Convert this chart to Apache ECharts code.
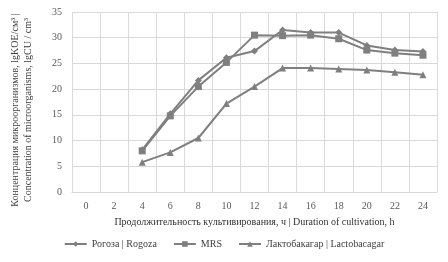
<!DOCTYPE html>
<html><head><meta charset="utf-8">
<script src="https://cdn.jsdelivr.net/npm/echarts@6/dist/echarts.min.js"></script>
<style>html,body{margin:0;padding:0;background:#fff}#c{width:448px;height:262px}</style>
</head><body><div id="c"></div>
<script>
const categories = ['0','2','4','6','8','10','12','14','16','18','20','22','24'];
const rogoza = [null, null, 8.2, 15.2, 21.7, 26.1, 27.4, 31.5, 31.0, 31.0, 28.5, 27.6, 27.3];
const mrs = [null, null, 8.0, 14.8, 20.5, 25.2, 30.5, 30.4, 30.5, 29.8, 27.6, 27.0, 26.6];
const lacto = [null, null, 5.8, 7.7, 10.5, 17.2, 20.5, 24.1, 24.1, 23.9, 23.7, 23.3, 22.8];
const yTicks = [0, 5, 10, 15, 20, 25, 30, 35];
const seriesNames = ['Рогоза | Rogoza', 'MRS', 'Лактобакагар | Lactobacagar'];
const xName = 'Продолжительность культивирования, ч | Duration of cultivation, h';
const yName1 = 'Концентрация микроорганизмов, lgKOE/см³ |';
const yName2 = 'Concentration of microorganisms, lgCU / cm³';

const font = 'Liberation Serif';
const col = '#7f7f7f';
const chart = echarts.init(document.getElementById('c'));
function mk(name, data, symbol, size) {
  return { name, type: 'line', data, symbol, symbolSize: size, connectNulls: false,
    lineStyle: { color: col, width: 2 }, itemStyle: { color: col }, animation: false };
}
chart.setOption({
  animation: false,
  grid: { left: 72, right: 11, top: 12, bottom: 70, containLabel: false },
  xAxis: {
    type: 'category', data: categories, boundaryGap: true,
    name: xName, nameLocation: 'middle', nameGap: 25,
    nameTextStyle: { fontFamily: font, fontSize: 10, color: '#333' },
    axisLine: { lineStyle: { color: '#d9d9d9' } },
    axisTick: { show: false },
    axisLabel: { fontFamily: font, fontSize: 10, color: '#595959', margin: 9 },
    splitLine: { show: true, lineStyle: { color: '#d9d9d9' } }
  },
  yAxis: {
    type: 'value', min: yTicks[0], max: yTicks[yTicks.length - 1], interval: 5,
    axisLine: { show: false }, axisTick: { show: false },
    axisLabel: { fontFamily: font, fontSize: 10, color: '#595959', margin: 10 },
    splitLine: { lineStyle: { color: '#d9d9d9' } }
  },
  legend: {
    bottom: 8, left: 'center', itemWidth: 22, itemHeight: 7, itemGap: 16,
    textStyle: { fontFamily: font, fontSize: 10, color: '#404040' },
    data: seriesNames
  },
  graphic: [
    { type: 'text', x: 15, y: 110, rotation: Math.PI / 2,
      style: { text: yName1, font: '10px "Liberation Serif"', fill: '#404040', align: 'center', verticalAlign: 'middle' } },
    { type: 'text', x: 28, y: 110, rotation: Math.PI / 2,
      style: { text: yName2, font: '10px "Liberation Serif"', fill: '#404040', align: 'center', verticalAlign: 'middle' } }
  ],
  series: [
    mk(seriesNames[0], rogoza, 'diamond', 7),
    mk(seriesNames[1], mrs, 'rect', 7),
    mk(seriesNames[2], lacto, 'triangle', 7)
  ]
});
</script></body></html>
